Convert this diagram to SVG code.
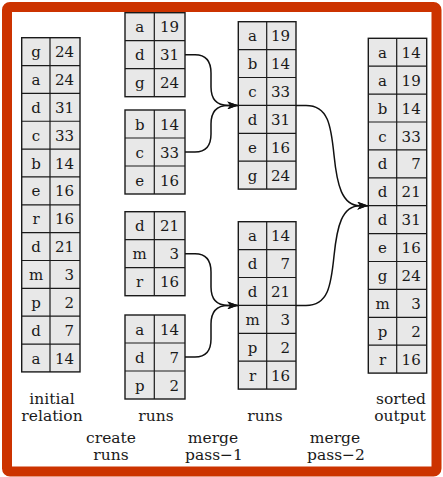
<svg xmlns="http://www.w3.org/2000/svg" width="443" height="477" viewBox="0 0 443 477">
<defs>
<style>
.tb{fill:#e8e8e8;stroke:#1a1a1a;stroke-width:1.4}
.gl{fill:none;stroke:#1a1a1a;stroke-width:1.2}
.k{font-family:"DejaVu Serif","Liberation Serif",serif;font-size:15px;fill:#1a1a1a;text-anchor:middle}
.v{font-family:"DejaVu Serif","Liberation Serif",serif;font-size:15px;fill:#1a1a1a;text-anchor:end}
.lb{font-family:"DejaVu Serif","Liberation Serif",serif;font-size:15.5px;fill:#1a1a1a;text-anchor:middle}
.cn{fill:none;stroke:#111;stroke-width:1.5;marker-end:url(#ah)}
</style>
<marker id="ah" markerUnits="userSpaceOnUse" markerWidth="11" markerHeight="8" refX="11" refY="4" orient="auto">
<path d="M0,0 L11,4 L0,8 L3,4 z" fill="#111"/>
</marker>
</defs>
<rect x="0" y="0" width="443" height="477" fill="#fff"/>
<rect x="7" y="7" width="429.5" height="464.5" rx="3" fill="#fff" stroke="#cc3300" stroke-width="10"/>

<g id="initial">
<rect class="tb" x="21.7" y="37.7" width="58.3" height="334.2"/>
<path class="gl" d="M50,37.7V371.9M21.7,65.55H80M21.7,93.4H80M21.7,121.25H80M21.7,149.1H80M21.7,176.95H80M21.7,204.8H80M21.7,232.65H80M21.7,260.5H80M21.7,288.35H80M21.7,316.2H80M21.7,344.05H80"/>
<text class="k" x="36" y="57.2">g</text><text class="v" x="74" y="57.2">24</text>
<text class="k" x="36" y="85.05">a</text><text class="v" x="74" y="85.05">24</text>
<text class="k" x="36" y="112.9">d</text><text class="v" x="74" y="112.9">31</text>
<text class="k" x="36" y="140.75">c</text><text class="v" x="74" y="140.75">33</text>
<text class="k" x="36" y="168.6">b</text><text class="v" x="74" y="168.6">14</text>
<text class="k" x="36" y="196.45">e</text><text class="v" x="74" y="196.45">16</text>
<text class="k" x="36" y="224.3">r</text><text class="v" x="74" y="224.3">16</text>
<text class="k" x="36" y="252.15">d</text><text class="v" x="74" y="252.15">21</text>
<text class="k" x="36" y="280">m</text><text class="v" x="74" y="280">3</text>
<text class="k" x="36" y="307.85">p</text><text class="v" x="74" y="307.85">2</text>
<text class="k" x="36" y="335.7">d</text><text class="v" x="74" y="335.7">7</text>
<text class="k" x="36" y="363.55">a</text><text class="v" x="74" y="363.55">14</text>
</g>

<g id="run1">
<rect class="tb" x="125" y="12.7" width="60" height="84"/>
<path class="gl" d="M154.3,12.7V96.7M125,40.7H185M125,68.7H185"/>
<text class="k" x="139.7" y="32.2">a</text><text class="v" x="179" y="32.2">19</text>
<text class="k" x="139.7" y="60.2">d</text><text class="v" x="179" y="60.2">31</text>
<text class="k" x="139.7" y="88.2">g</text><text class="v" x="179" y="88.2">24</text>
</g>
<g id="run2">
<rect class="tb" x="125" y="110" width="60" height="84"/>
<path class="gl" d="M154.3,110V194M125,138H185M125,166H185"/>
<text class="k" x="139.7" y="129.5">b</text><text class="v" x="179" y="129.5">14</text>
<text class="k" x="139.7" y="157.5">c</text><text class="v" x="179" y="157.5">33</text>
<text class="k" x="139.7" y="185.5">e</text><text class="v" x="179" y="185.5">16</text>
</g>
<g id="run3">
<rect class="tb" x="125" y="211.7" width="60" height="84"/>
<path class="gl" d="M154.3,211.7V295.7M125,239.7H185M125,267.7H185"/>
<text class="k" x="139.7" y="231.2">d</text><text class="v" x="179" y="231.2">21</text>
<text class="k" x="139.7" y="259.2">m</text><text class="v" x="179" y="259.2">3</text>
<text class="k" x="139.7" y="287.2">r</text><text class="v" x="179" y="287.2">16</text>
</g>
<g id="run4">
<rect class="tb" x="125" y="315" width="60" height="84"/>
<path class="gl" d="M154.3,315V399M125,343H185M125,371H185"/>
<text class="k" x="139.7" y="334.5">a</text><text class="v" x="179" y="334.5">14</text>
<text class="k" x="139.7" y="362.5">d</text><text class="v" x="179" y="362.5">7</text>
<text class="k" x="139.7" y="390.5">p</text><text class="v" x="179" y="390.5">2</text>
</g>

<g id="pass1a">
<rect class="tb" x="238.3" y="21.7" width="57.7" height="167.4"/>
<path class="gl" d="M266.7,21.7V189.1M238.3,49.6H296M238.3,77.5H296M238.3,105.4H296M238.3,133.3H296M238.3,161.2H296"/>
<text class="k" x="252.5" y="41.2">a</text><text class="v" x="290" y="41.2">19</text>
<text class="k" x="252.5" y="69.1">b</text><text class="v" x="290" y="69.1">14</text>
<text class="k" x="252.5" y="97">c</text><text class="v" x="290" y="97">33</text>
<text class="k" x="252.5" y="124.9">d</text><text class="v" x="290" y="124.9">31</text>
<text class="k" x="252.5" y="152.8">e</text><text class="v" x="290" y="152.8">16</text>
<text class="k" x="252.5" y="180.7">g</text><text class="v" x="290" y="180.7">24</text>
</g>
<g id="pass1b">
<rect class="tb" x="238.3" y="221.7" width="57.7" height="167.4"/>
<path class="gl" d="M266.7,221.7V389.1M238.3,249.6H296M238.3,277.5H296M238.3,305.4H296M238.3,333.3H296M238.3,361.2H296"/>
<text class="k" x="252.5" y="241.2">a</text><text class="v" x="290" y="241.2">14</text>
<text class="k" x="252.5" y="269.1">d</text><text class="v" x="290" y="269.1">7</text>
<text class="k" x="252.5" y="297">d</text><text class="v" x="290" y="297">21</text>
<text class="k" x="252.5" y="324.9">m</text><text class="v" x="290" y="324.9">3</text>
<text class="k" x="252.5" y="352.8">p</text><text class="v" x="290" y="352.8">2</text>
<text class="k" x="252.5" y="380.7">r</text><text class="v" x="290" y="380.7">16</text>
</g>

<g id="output">
<rect class="tb" x="368.3" y="38.3" width="58.4" height="334.8"/>
<path class="gl" d="M396.7,38.3V373.1M368.3,66.2H426.7M368.3,94.1H426.7M368.3,122H426.7M368.3,149.9H426.7M368.3,177.8H426.7M368.3,205.7H426.7M368.3,233.6H426.7M368.3,261.5H426.7M368.3,289.4H426.7M368.3,317.3H426.7M368.3,345.2H426.7"/>
<text class="k" x="382.5" y="57.8">a</text><text class="v" x="420.7" y="57.8">14</text>
<text class="k" x="382.5" y="85.7">a</text><text class="v" x="420.7" y="85.7">19</text>
<text class="k" x="382.5" y="113.6">b</text><text class="v" x="420.7" y="113.6">14</text>
<text class="k" x="382.5" y="141.5">c</text><text class="v" x="420.7" y="141.5">33</text>
<text class="k" x="382.5" y="169.4">d</text><text class="v" x="420.7" y="169.4">7</text>
<text class="k" x="382.5" y="197.3">d</text><text class="v" x="420.7" y="197.3">21</text>
<text class="k" x="382.5" y="225.2">d</text><text class="v" x="420.7" y="225.2">31</text>
<text class="k" x="382.5" y="253.1">e</text><text class="v" x="420.7" y="253.1">16</text>
<text class="k" x="382.5" y="281">g</text><text class="v" x="420.7" y="281">24</text>
<text class="k" x="382.5" y="308.9">m</text><text class="v" x="420.7" y="308.9">3</text>
<text class="k" x="382.5" y="336.8">p</text><text class="v" x="420.7" y="336.8">2</text>
<text class="k" x="382.5" y="364.7">r</text><text class="v" x="420.7" y="364.7">16</text>
</g>

<g id="connectors">
<path class="cn" d="M185,54.7H195C206,54.7 211,61 211,73V87C211,99 216,105.4 228,105.4H238.3"/>
<path class="cn" d="M185,152H195C206,152 211,146 211,134V124C211,112 216,105.4 228,105.4H238.3"/>
<path class="cn" d="M185,253.7H195C206,253.7 211,260 211,272V287C211,299 216,305.4 228,305.4H238.3"/>
<path class="cn" d="M185,357H195C206,357 211,351 211,339V324C211,312 216,305.4 228,305.4H238.3"/>
<path class="cn" d="M296,105.4H306C328,105.4 331,125 334,155C337,185 342,205.7 360,205.7H368.3"/>
<path class="cn" d="M296,305.4H306C328,305.4 331,286 334,256C337,226 342,205.7 360,205.7H368.3"/>
</g>

<g id="labels">
<text class="lb" x="52" y="404">initial</text>
<text class="lb" x="52" y="421">relation</text>
<text class="lb" x="156" y="421">runs</text>
<text class="lb" x="111" y="443">create</text>
<text class="lb" x="111" y="460">runs</text>
<text class="lb" x="265" y="421">runs</text>
<text class="lb" x="213" y="443">merge</text>
<text class="lb" x="214" y="460">pass−1</text>
<text class="lb" x="335" y="443">merge</text>
<text class="lb" x="336" y="460">pass−2</text>
<text class="lb" x="401" y="404">sorted</text>
<text class="lb" x="400" y="421">output</text>
</g>
</svg>
